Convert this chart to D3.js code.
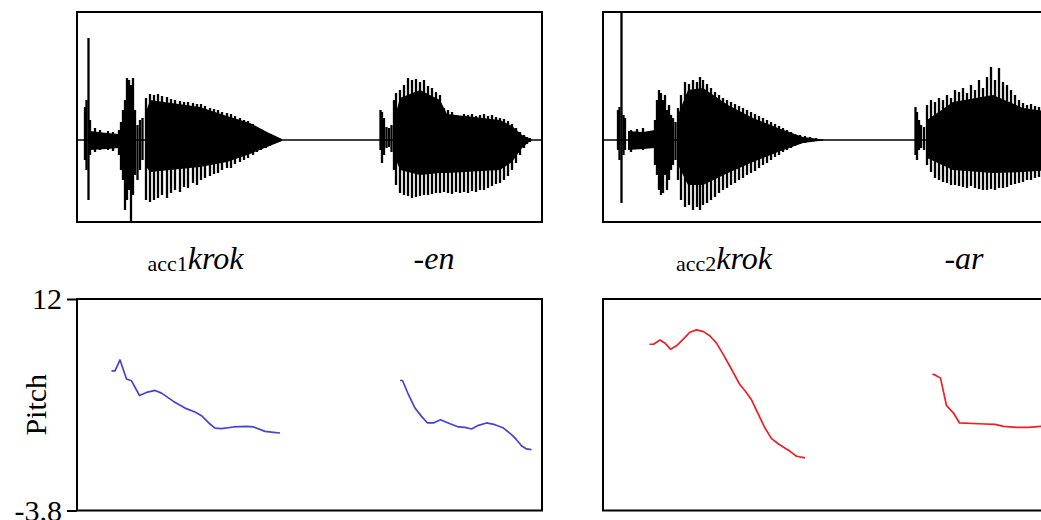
<!DOCTYPE html>
<html>
<head>
<meta charset="utf-8">
<script src="https://cdn.jsdelivr.net/npm/d3@7/dist/d3.min.js"></script>
<style>
  html, body { margin: 0; padding: 0; background: #fff; }
  svg { display: block; }
  text { font-family: "Liberation Serif", "Times New Roman", serif; fill: #000; }
</style>
</head>
<body>
<svg id="chart" width="1041" height="520"></svg>
<script>
// ---- data -------------------------------------------------------------
// time in ms from the start of each recording window
const timeDomain = [0, 930];
// waveform amplitude range of the frame (relative units)
const ampDomain = [-0.82, 1.28];
// pitch range (semitones)
const pitchTicks = [12, -3.8];

// glottal pulses / burst transients of acc1 "kroken": [t, max, min]
const pulsesAcc1 = [
  [16, 0.33, -0.20], [19, 0.40, -0.30], [23, 1.02, -0.60], [26, 0.20, -0.15],
  [36, 0.12, -0.12], [46, 0.10, -0.10], [62, 0.09, -0.10], [72, 0.08, -0.11],
  [84, 0.10, -0.15], [88, 0.18, -0.30], [92, 0.30, -0.40], [96, 0.40, -0.70],
  [100, 0.62, -0.60], [104, 0.60, -0.50], [108, 0.55, -0.82], [112, 0.62, -0.55],
  [116, 0.30, -0.35], [121, 0.15, -0.40], [126, 0.20, -0.30], [131, 0.22, -0.20],
  [138, 0.42, -0.60], [146, 0.46, -0.62], [154, 0.45, -0.60], [162, 0.46, -0.58],
  [170, 0.44, -0.55], [180, 0.43, -0.58], [188, 0.41, -0.53], [196, 0.40, -0.50],
  [206, 0.39, -0.52], [214, 0.38, -0.47], [222, 0.38, -0.48], [232, 0.37, -0.43],
  [240, 0.36, -0.45], [248, 0.36, -0.40], [256, 0.34, -0.38], [266, 0.32, -0.36],
  [274, 0.31, -0.34], [282, 0.30, -0.33], [290, 0.28, -0.30], [300, 0.27, -0.28],
  [308, 0.26, -0.28], [316, 0.24, -0.24], [326, 0.22, -0.22], [334, 0.20, -0.20],
  [342, 0.19, -0.18], [352, 0.16, -0.15], [360, 0.13, -0.12], [368, 0.11, -0.10],
  [378, 0.08, -0.08], [386, 0.06, -0.06], [394, 0.04, -0.04], [404, 0.02, -0.02],
  [607, 0.30, -0.10], [610, 0.28, -0.23], [614, 0.22, -0.15], [619, 0.13, -0.08],
  [624, 0.12, -0.07], [629, 0.15, -0.12], [634, 0.40, -0.30], [638, 0.47, -0.45],
  [646, 0.50, -0.53], [654, 0.55, -0.55], [662, 0.62, -0.56], [670, 0.60, -0.58],
  [678, 0.61, -0.57], [686, 0.58, -0.56], [694, 0.60, -0.55], [702, 0.54, -0.55],
  [710, 0.52, -0.54], [718, 0.48, -0.53], [726, 0.45, -0.53], [734, 0.32, -0.52],
  [742, 0.30, -0.53], [750, 0.28, -0.54], [758, 0.25, -0.52], [766, 0.24, -0.53],
  [774, 0.26, -0.52], [782, 0.25, -0.53], [790, 0.26, -0.51], [798, 0.24, -0.52],
  [806, 0.25, -0.50], [814, 0.26, -0.50], [822, 0.24, -0.48], [830, 0.25, -0.46],
  [838, 0.23, -0.44], [846, 0.22, -0.43], [854, 0.21, -0.40], [862, 0.19, -0.36],
  [870, 0.16, -0.30], [878, 0.12, -0.23], [886, 0.08, -0.15], [894, 0.05, -0.08],
  [900, 0.03, -0.04], [906, 0.02, -0.02]
];
// dense (unresolved) part of the acc1 waveform: [t, top, bottom]
const coreAcc1 = [
  [[26, 0.09, -0.10], [60, 0.07, -0.09], [84, 0.06, -0.08]],
  [[136, 0.25, -0.25], [146, 0.40, -0.32], [246, 0.33, -0.27], [300, 0.24, -0.22],
   [346, 0.17, -0.14], [380, 0.08, -0.07], [410, 0.01, -0.01]],
  [[634, 0.20, -0.15], [646, 0.42, -0.30], [686, 0.50, -0.35], [726, 0.40, -0.33],
   [740, 0.26, -0.33], [846, 0.20, -0.30], [870, 0.14, -0.22], [890, 0.05, -0.08], [906, 0.01, -0.01]]
];

// glottal pulses / burst transients of acc2 "krokar": [t, max, min]
const pulsesAcc2 = [
  [30, 0.30, -0.10], [33, 0.33, -0.20], [37, 1.28, -0.63], [41, 0.25, -0.15],
  [44, 0.22, -0.10], [56, 0.10, -0.12], [68, 0.11, -0.09], [80, 0.12, -0.10],
  [92, 0.09, -0.08], [104, 0.20, -0.25], [108, 0.40, -0.35], [112, 0.50, -0.50],
  [116, 0.47, -0.55], [120, 0.40, -0.53], [124, 0.45, -0.35], [128, 0.30, -0.50],
  [132, 0.35, -0.40], [136, 0.25, -0.30], [140, 0.22, -0.25], [145, 0.18, -0.20],
  [150, 0.32, -0.40], [156, 0.45, -0.60], [164, 0.58, -0.67], [172, 0.56, -0.65],
  [180, 0.60, -0.70], [188, 0.58, -0.67], [194, 0.63, -0.70], [200, 0.60, -0.65],
  [208, 0.56, -0.63], [216, 0.52, -0.60], [224, 0.48, -0.57], [232, 0.45, -0.53],
  [240, 0.42, -0.50], [248, 0.40, -0.48], [256, 0.38, -0.45], [264, 0.36, -0.43],
  [272, 0.34, -0.40], [280, 0.32, -0.38], [288, 0.30, -0.35], [296, 0.28, -0.33],
  [304, 0.26, -0.31], [312, 0.24, -0.28], [320, 0.22, -0.25], [328, 0.20, -0.23],
  [336, 0.18, -0.20], [344, 0.16, -0.17], [352, 0.14, -0.15], [360, 0.12, -0.12],
  [368, 0.10, -0.10], [376, 0.08, -0.08], [384, 0.06, -0.06], [394, 0.05, -0.04],
  [404, 0.04, -0.03], [414, 0.03, -0.02], [426, 0.02, -0.01], [438, 0.01, -0.005],
  [625, 0.33, -0.15], [628, 0.28, -0.20], [632, 0.20, -0.10], [636, 0.15, -0.08],
  [642, 0.13, -0.10], [648, 0.35, -0.25], [656, 0.40, -0.32], [664, 0.38, -0.38],
  [672, 0.42, -0.40], [680, 0.40, -0.42], [688, 0.45, -0.43], [696, 0.42, -0.45],
  [704, 0.50, -0.45], [712, 0.48, -0.46], [720, 0.52, -0.47], [728, 0.47, -0.48],
  [736, 0.55, -0.46], [744, 0.50, -0.48], [752, 0.60, -0.49], [760, 0.52, -0.50],
  [768, 0.63, -0.50], [776, 0.73, -0.49], [784, 0.60, -0.50], [792, 0.72, -0.48],
  [800, 0.58, -0.48], [808, 0.55, -0.47], [816, 0.50, -0.45], [824, 0.45, -0.44],
  [832, 0.40, -0.43], [840, 0.37, -0.42], [848, 0.35, -0.40], [856, 0.36, -0.40],
  [864, 0.34, -0.38], [872, 0.33, -0.37], [880, 0.32, -0.36], [888, 0.30, -0.36]
];
const coreAcc2 = [
  [[50, 0.09, -0.10], [80, 0.08, -0.09], [104, 0.10, -0.08]],
  [[150, 0.25, -0.25], [170, 0.50, -0.45], [200, 0.52, -0.45], [250, 0.35, -0.33],
   [300, 0.22, -0.22], [350, 0.12, -0.12], [400, 0.03, -0.03], [440, 0.005, -0.005]],
  [[648, 0.20, -0.18], [700, 0.38, -0.30], [780, 0.45, -0.33], [840, 0.32, -0.32], [900, 0.28, -0.30]]
];

// pitch contours: [t (ms), pitch (semitones)]
const pitchAcc1Stem = [
  [69, 6.63], [76, 6.63], [86, 7.45], [99, 6.02], [109, 5.89], [125, 4.79], [139, 5.02],
  [156, 5.17], [169, 4.97], [193, 4.35], [216, 3.85], [236, 3.56], [249, 3.28], [266, 2.66],
  [276, 2.36], [289, 2.31], [313, 2.44], [339, 2.48], [353, 2.44], [376, 2.11], [393, 2.04],
  [406, 1.99]
];
const pitchAcc1Suffix = [
  [646, 5.91], [651, 5.91], [663, 4.85], [676, 3.85], [689, 3.23], [701, 2.74], [713, 2.74],
  [727, 2.98], [746, 2.68], [763, 2.44], [776, 2.41], [789, 2.29], [803, 2.56], [819, 2.74],
  [836, 2.61], [853, 2.36], [869, 1.87], [879, 1.49], [889, 1.04], [899, 0.80], [909, 0.75]
];
const pitchAcc2Stem = [
  [93, 8.62], [101, 8.62], [114, 8.94], [124, 8.70], [135, 8.25], [147, 8.50], [161, 9.02],
  [174, 9.52], [187, 9.69], [201, 9.56], [214, 9.24], [227, 8.70], [241, 7.83], [254, 6.96],
  [274, 5.59], [284, 5.14], [297, 4.47], [311, 3.36], [324, 2.36], [337, 1.57], [351, 1.17],
  [374, 0.62], [387, 0.25], [404, 0.13]
];
const pitchAcc2Suffix = [
  [659, 6.39], [665, 6.31], [675, 6.09], [687, 4.03], [701, 3.48], [713, 2.74], [751, 2.68],
  [784, 2.63], [801, 2.48], [827, 2.41], [851, 2.41], [876, 2.48], [914, 2.50]
];

// segment labels: [t, subscript, italic text]
const labelsAcc1 = [[237, "acc1", "krok"], [714, "", "-en"]];
const labelsAcc2 = [[242, "acc2", "krok"], [722, "", "-ar"]];

// ---- layout -----------------------------------------------------------
const svg = d3.select("#chart");
const serif = '"Liberation Serif", "Times New Roman", serif';
const waveTop = 12, waveBottom = 222;
const pitchTop = 299, pitchBottom = 510.5;
const panels = [
  { left: 77, right: 542, pulses: pulsesAcc1, core: coreAcc1,
    pitch: [pitchAcc1Stem, pitchAcc1Suffix], color: "#4444d4", labels: labelsAcc1, axis: true },
  { left: 603, right: 1068, pulses: pulsesAcc2, core: coreAcc2,
    pitch: [pitchAcc2Stem, pitchAcc2Suffix], color: "#ee1f26", labels: labelsAcc2, axis: false }
];

const yWave = d3.scaleLinear().domain(ampDomain).range([waveBottom, waveTop]);
const yPitch = d3.scaleLinear().domain([pitchTicks[1], pitchTicks[0]]).range([pitchBottom, pitchTop]);

const defs = svg.append("defs");

panels.forEach((p, i) => {
  const x = d3.scaleLinear().domain(timeDomain).range([p.left, p.right]);

  // waveform
  const clipW = "clipw" + i;
  defs.append("clipPath").attr("id", clipW).append("rect")
    .attr("x", p.left).attr("y", waveTop).attr("width", p.right - p.left).attr("height", waveBottom - waveTop);
  const gw = svg.append("g").attr("clip-path", `url(#${clipW})`);

  gw.append("line")
    .attr("x1", x(timeDomain[0])).attr("x2", x(timeDomain[1]))
    .attr("y1", yWave(0)).attr("y2", yWave(0))
    .attr("stroke", "#000").attr("stroke-width", 1.6);

  const area = d3.area().x(d => x(d[0])).y0(d => yWave(d[2])).y1(d => yWave(d[1]));
  gw.selectAll("path.core").data(p.core).join("path")
    .attr("class", "core").attr("d", area).attr("fill", "#000");

  gw.selectAll("line.pulse").data(p.pulses).join("line")
    .attr("class", "pulse")
    .attr("x1", d => x(d[0])).attr("x2", d => x(d[0]))
    .attr("y1", d => yWave(d[1])).attr("y2", d => yWave(d[2]))
    .attr("stroke", "#000").attr("stroke-width", 2.3);

  svg.append("rect")
    .attr("x", p.left).attr("y", waveTop).attr("width", p.right - p.left).attr("height", waveBottom - waveTop)
    .attr("fill", "none").attr("stroke", "#000").attr("stroke-width", 2);

  // segment labels
  p.labels.forEach(l => {
    const t = svg.append("text").attr("x", x(l[0])).attr("y", 269)
      .attr("text-anchor", "middle").attr("font-family", serif);
    if (l[1]) t.append("tspan").attr("font-size", 22).attr("dy", 2).text(l[1]);
    t.append("tspan").attr("font-size", 32).attr("font-style", "italic")
      .attr("font-family", serif).attr("dy", l[1] ? -2 : 0).text(l[2]);
  });

  // pitch
  const line = d3.line().x(d => x(d[0])).y(d => yPitch(d[1]));
  svg.selectAll(null).data(p.pitch).join("path")
    .attr("d", line).attr("fill", "none").attr("stroke", p.color)
    .attr("stroke-width", 1.7).attr("stroke-linejoin", "round");

  svg.append("rect")
    .attr("x", p.left).attr("y", pitchTop).attr("width", p.right - p.left).attr("height", pitchBottom - pitchTop)
    .attr("fill", "none").attr("stroke", "#000").attr("stroke-width", 2);

  if (p.axis) {
    const ax = svg.append("g").attr("transform", `translate(${p.left},0)`)
      .call(d3.axisLeft(yPitch).tickValues(pitchTicks).tickSize(10).tickPadding(5)
        .tickFormat(v => String(v)));
    ax.select(".domain").remove();
    ax.selectAll(".tick line").attr("stroke", "#000").attr("stroke-width", 2);
    ax.selectAll(".tick text").attr("font-size", 30).attr("font-family", serif).attr("fill", "#000");

    svg.append("text")
      .attr("transform", `translate(46,${(pitchTop + pitchBottom) / 2}) rotate(-90)`)
      .attr("text-anchor", "middle").attr("font-family", serif).attr("font-size", 30).text("Pitch");
  }
});
</script>
</body>
</html>
